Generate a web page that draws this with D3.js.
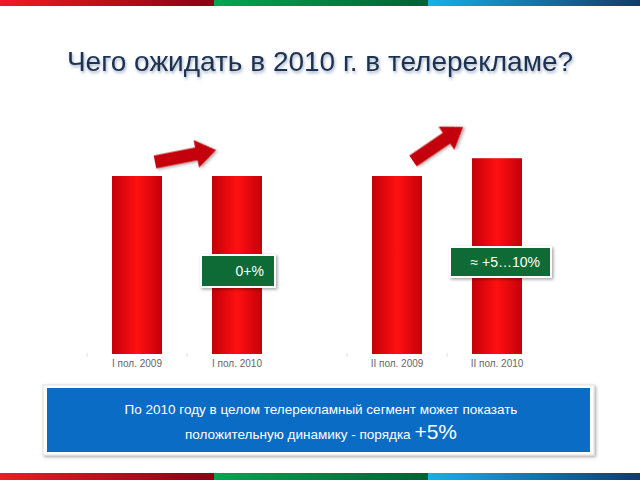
<!DOCTYPE html>
<html><head><meta charset="utf-8">
<script src="https://cdn.jsdelivr.net/npm/d3@7"></script>
<style>html,body{margin:0;padding:0;background:#fff;}svg{display:block;font-family:"Liberation Sans",Arial,sans-serif;}</style>
</head><body>
<svg id="c" width="640" height="480"></svg>
<script>
const title = "Чего ожидать в 2010 г. в телерекламе?";
const leftCategories = ["I пол. 2009", "I пол. 2010"];
const leftValues = [100, 100];
const rightCategories = ["II пол. 2009", "II пол. 2010"];
const rightValues = [100, 110];
const growthLabels = ["0+%", "≈ +5…10%"];
const summaryLines = ["По 2010 году в целом телерекламный сегмент может показать", "положительную динамику - порядка "];
const summaryEmph = "+5%";

const svg = d3.select("#c");
const defs = svg.append("defs");

const stripes = [["#ee1c25","#8b0014"],["#00a651","#006233"],["#14b1ea","#123a6b"]];
stripes.forEach((s,i)=>{
  const g = defs.append("linearGradient").attr("id","st"+i).attr("x1","0").attr("x2","1");
  g.append("stop").attr("offset","0").attr("stop-color",s[0]);
  g.append("stop").attr("offset","1").attr("stop-color",s[1]);
});
const stripeX = [0,214,428,640];
[0,1,2].forEach(i=>{
  svg.append("rect").attr("x",stripeX[i]).attr("y",0).attr("width",stripeX[i+1]-stripeX[i]).attr("height",6).attr("fill","url(#st"+i+")");
  svg.append("rect").attr("x",stripeX[i]).attr("y",473).attr("width",stripeX[i+1]-stripeX[i]).attr("height",7).attr("fill","url(#st"+i+")");
});

const bg = defs.append("linearGradient").attr("id","bar").attr("x1","0").attr("x2","1");
[["0","#c4000a"],["0.5","#ff1010"],["1","#c4000a"]].forEach(d=>bg.append("stop").attr("offset",d[0]).attr("stop-color",d[1]));

const f = defs.append("filter").attr("id","sh").attr("x","-10%").attr("y","-20%").attr("width","130%").attr("height","160%");
f.append("feDropShadow").attr("dx",1.5).attr("dy",1.5).attr("stdDeviation",1.5).attr("flood-color","#000").attr("flood-opacity",0.35);
const ft = defs.append("filter").attr("id","tsh").attr("x","-5%").attr("y","-20%").attr("width","110%").attr("height","160%");
ft.append("feDropShadow").attr("dx",1).attr("dy",2).attr("stdDeviation",1.5).attr("flood-color","#2a4a7a").attr("flood-opacity",0.45);

svg.append("text").attr("x",320).attr("y",71).attr("text-anchor","middle")
  .attr("font-size",28).attr("fill","#1b3050").attr("filter","url(#tsh)").text(title);

const y = d3.scaleLinear().domain([0,100]).range([354,176]);

function panel(cats, vals, x0, x1) {
  const x = d3.scaleBand().domain(cats).range([x0,x1]).paddingInner(0.5).paddingOuter(0.25);
  const g = svg.append("g");
  g.selectAll("rect.b").data(vals).join("rect").attr("class","b")
    .attr("x",(d,i)=>x(cats[i])).attr("width",x.bandwidth())
    .attr("y",d=>y(d)).attr("height",d=>y(0)-y(d)).attr("fill","url(#bar)");
  const ax = d3.axisBottom(x).tickSize(0).tickPadding(6);
  const ag = g.append("g").attr("transform","translate(0,"+y(0)+")").call(ax);
  ag.select(".domain").remove();
  ag.selectAll("text").attr("font-size",10).attr("fill","#666").attr("font-family","Liberation Sans, Arial, sans-serif");
  const marks = cats.map(c => x(c) - (x.step()-x.bandwidth())/2);
  g.selectAll("line.t").data(marks).join("line").attr("class","t")
    .attr("x1",d=>d).attr("x2",d=>d).attr("y1",y(0)-1).attr("y2",y(0)+3).attr("stroke","#ddd");
  return x;
}
panel(leftCategories, leftValues, 87, 287);
panel(rightCategories, rightValues, 347, 547);

function arrow(x1,y1,x2,y2){
  const ang = Math.atan2(y2-y1,x2-x1);
  const len = Math.hypot(x2-x1,y2-y1);
  const w = 6.5, hw = 14, hl = 20;
  const pts = [[0,-w],[len-hl,-w],[len-hl,-hw],[len,0],[len-hl,hw],[len-hl,w],[0,w]];
  svg.append("polygon").attr("points",pts.map(p=>p.join(",")).join(" "))
    .attr("transform",`translate(${x1},${y1}) rotate(${ang*180/Math.PI})`)
    .attr("fill","#c4000a").attr("filter","url(#sh)");
}
arrow(155,162,216,150);
arrow(413,161,463,127);

function badge(x0,y0,w,h,txt){
  svg.append("rect").attr("x",x0-2).attr("y",y0-2).attr("width",w+4).attr("height",h+4).attr("fill","#fff").attr("filter","url(#sh)");
  svg.append("rect").attr("x",x0).attr("y",y0).attr("width",w).attr("height",h).attr("fill","#0e6b35");
  svg.append("text").attr("x",x0+w-10).attr("y",y0+h/2+5).attr("text-anchor","end").attr("font-size",14).attr("fill","#fff").text(txt);
}
badge(202,256,72,30,growthLabels[0]);
badge(451,248,99,28,growthLabels[1]);

svg.append("rect").attr("x",43).attr("y",385).attr("width",551).attr("height",70).attr("fill","#fff").attr("stroke","#ddd").attr("filter","url(#sh)");
svg.append("rect").attr("x",47).attr("y",388).attr("width",543).attr("height",64).attr("fill","#0a6cc4");
svg.append("text").attr("x",321).attr("y",414).attr("text-anchor","middle").attr("font-size",13.5).attr("fill","#fff").text(summaryLines[0]);
const t2 = svg.append("text").attr("x",321).attr("y",439).attr("text-anchor","middle").attr("fill","#fff");
t2.append("tspan").attr("font-size",13.5).text(summaryLines[1]);
t2.append("tspan").attr("font-size",21).text(summaryEmph);
</script>
</body></html>
